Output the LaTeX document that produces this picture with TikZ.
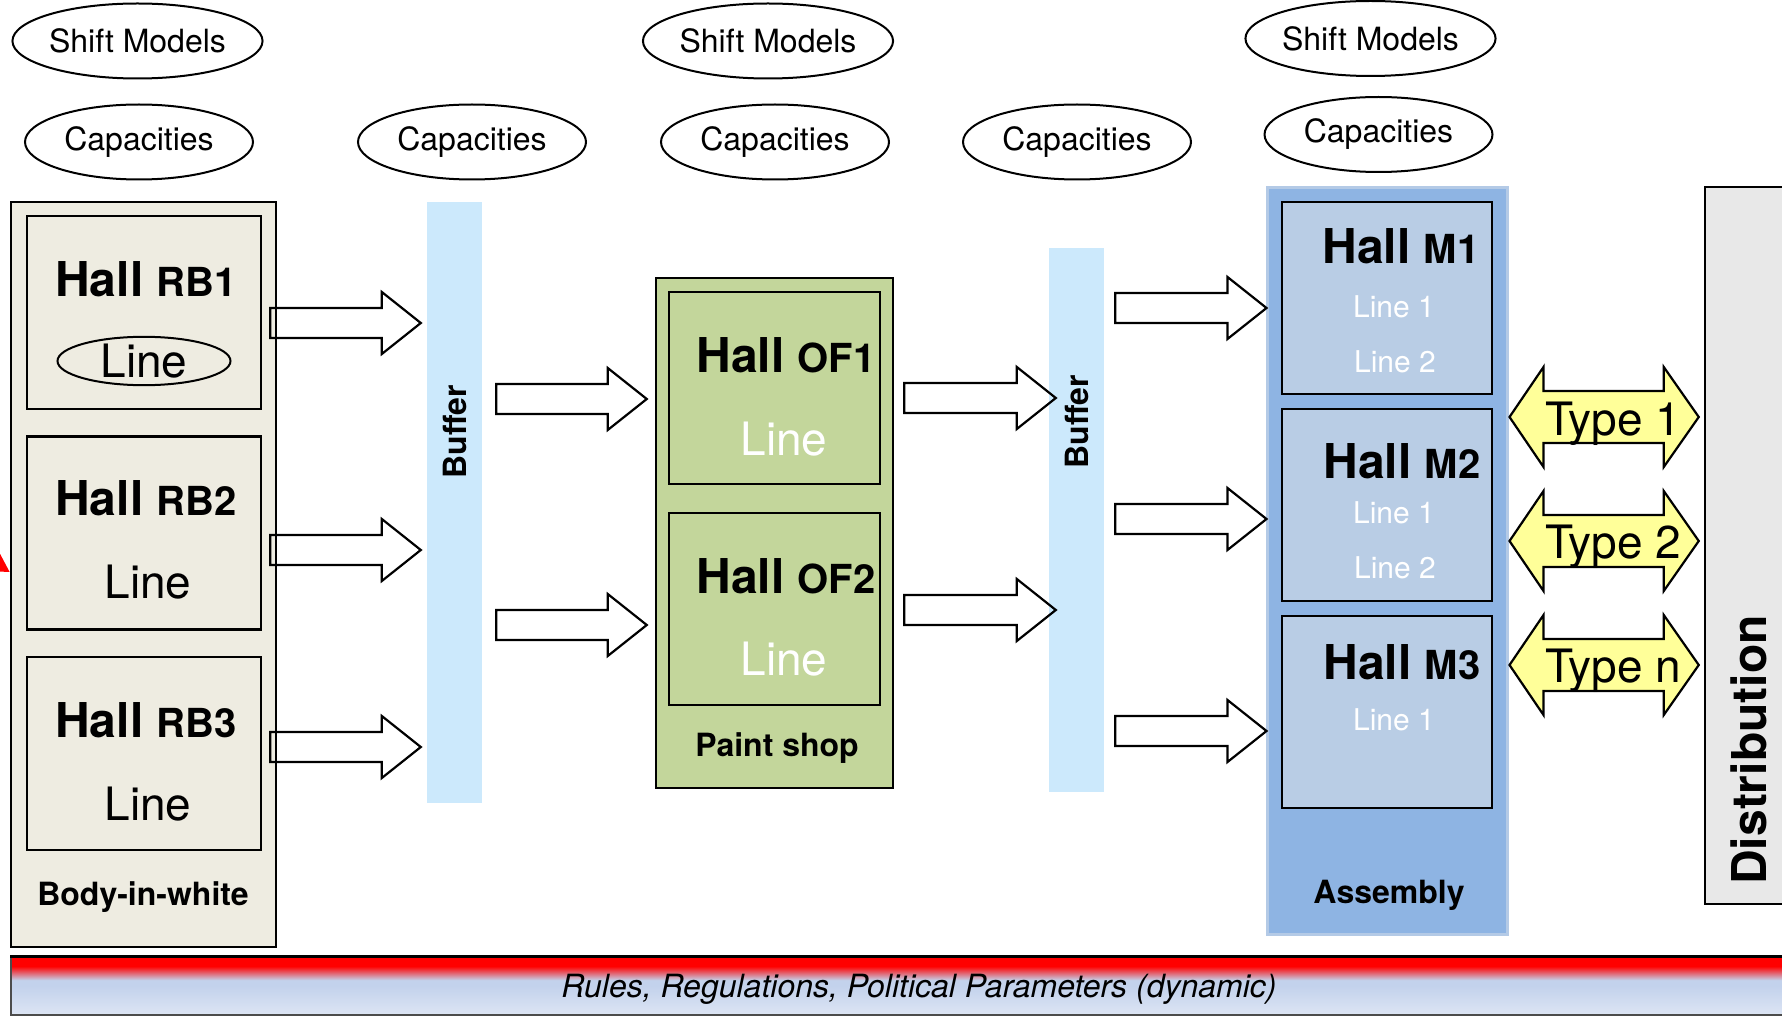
\documentclass[tikz,border=0pt]{standalone}
\usepackage{fontspec}
\setmainfont{TeX Gyre Heros}
\usetikzlibrary{arrows.meta,calc,shapes.geometric}
\definecolor{biwfill}{HTML}{EEECE1}
\definecolor{paintfill}{HTML}{C3D69B}
\definecolor{buffill}{HTML}{CCE9FC}
\definecolor{asmfill}{HTML}{8EB4E3}
\definecolor{asmedge}{HTML}{B4CAE6}
\definecolor{hallfill}{HTML}{B9CDE5}
\definecolor{distfill}{HTML}{E8E8E8}
\definecolor{typefill}{HTML}{FFFF99}
\definecolor{barmid}{HTML}{C3D2EC}
\definecolor{barlow}{HTML}{DDE5F4}
\pgfdeclareverticalshading{rulebar}{100bp}{color(0bp)=(barlow); color(25bp)=(barlow); color(50bp)=(barmid); color(55bp)=(barmid); color(67bp)=(red); color(100bp)=(red)}
\newcommand{\txtsize}[1]{\fontsize{#1}{#1}\selectfont}
\newcommand{\hallname}[1]{{\txtsize{48}Hall} {\txtsize{40}#1}}
% hollow block arrow: start, tip, height
\newcommand{\flowarrow}[3]{%
  \draw[flow] let \p1=(#1), \p2=(#2), \p3=(0,#3) in
    (\x1,\y3+15pt) -- (\x2-39pt,\y3+15pt) -- (\x2-39pt,\y3+31pt) -- (\x2,\y3)
    -- (\x2-39pt,\y3-31pt) -- (\x2-39pt,\y3-15pt) -- (\x1,\y3-15pt) -- cycle;}
% yellow two-way arrow: left tip, right tip, height
\newcommand{\typearrow}[3]{%
  \draw[twoway] let \p1=(#1), \p2=(#2), \p3=(0,#3) in
    (\x1,\y3) -- (\x1+34pt,\y3+50pt) -- (\x1+34pt,\y3+26pt) -- (\x2-35pt,\y3+26pt)
    -- (\x2-35pt,\y3+50pt) -- (\x2,\y3) -- (\x2-35pt,\y3-50pt) -- (\x2-35pt,\y3-26pt)
    -- (\x1+34pt,\y3-26pt) -- (\x1+34pt,\y3-50pt) -- cycle;}

\begin{document}
\begin{tikzpicture}[x=1pt, y=-1pt, >=Stealth,
  ell/.style={ellipse,draw,line width=2pt,inner sep=0pt,minimum width=228,minimum height=75,font=\txtsize{32}},
  hallbox/.style={draw,line width=2.5pt,inner sep=0pt,minimum width=234,minimum height=193},
  bufbar/.style={fill=buffill,inner sep=0pt,minimum width=55},
  lbl/.style={anchor=base,inner sep=0pt},
  hallt/.style={lbl,font=\bfseries\txtsize{48}},
  linet/.style={lbl,font=\txtsize{46}},
  sublinet/.style={lbl,font=\txtsize{30},text=white},
  capt/.style={lbl,font=\bfseries\txtsize{32}},
  buft/.style={rotate=90,inner sep=0pt,font=\bfseries\txtsize{32}},
  flow/.style={draw,line width=2.2pt,line join=miter},
  twoway/.style={draw,fill=typefill,line width=2.2pt,line join=miter}]
\useasboundingbox (0,0) rectangle (1782,1016);

% parameters on top
\node[ell,minimum width=231] (SM1) at (137.5,41) {Shift Models};
\node[ell,minimum width=242] (SM2) at (768,41) {Shift Models};
\node[ell,minimum width=239] (SM3) at (1370.5,38.5) {Shift Models};
\node[ell] (CA1) at (139,142) {Capacities};
\node[ell] (CA2) at (472,142) {Capacities};
\node[ell] (CA3) at (775,142) {Capacities};
\node[ell] (CA4) at (1077,142) {Capacities};
\node[ell] (CA5) at (1378.5,134.5) {Capacities};

% body-in-white
\node[draw,fill=biwfill,line width=2.5pt,inner sep=0pt,minimum width=265,minimum height=745] (BIW) at (143.5,574.5) {};
\node[hallbox] (RB1) at (144,312.5) {};
\node[hallbox] (RB2) at (144,533) {};
\node[hallbox] (RB3) at (144,753.5) {};
\node[hallt] (RB1t) at (146,296) {\hallname{RB1}};
\node[ellipse,draw,line width=2pt,inner sep=0pt,minimum width=173,minimum height=43,font=\txtsize{46}] (RB1l) at (144,361) {Line};
\node[hallt] (RB2t) at (146,515) {\hallname{RB2}};
\node[linet] (RB2l) at (148,598) {Line};
\node[hallt] (RB3t) at (146,737) {\hallname{RB3}};
\node[linet] (RB3l) at (148,820) {Line};
\node[capt] (BIWt) at (143,905) {Body-in-white};

% buffers
\node[bufbar,minimum height=601] (B1) at (454.5,502.5) {};
\node[buft] (B1t) at (455,432) {Buffer};
\node[bufbar,minimum height=544] (B2) at (1076.5,520) {};
\node[buft] (B2t) at (1077,422) {Buffer};

% paint shop
\node[draw,fill=paintfill,line width=2.5pt,inner sep=0pt,minimum width=237,minimum height=510] (PS) at (774.5,533) {};
\node[hallbox,minimum width=211,minimum height=192] (OF1) at (774.5,388) {};
\node[hallbox,minimum width=211,minimum height=192] (OF2) at (774.5,609) {};
\node[hallt] (OF1t) at (786,372) {\hallname{OF1}};
\node[linet,text=white] (OF1l) at (784,455) {Line};
\node[hallt] (OF2t) at (786,593) {\hallname{OF2}};
\node[linet,text=white] (OF2l) at (784,675) {Line};
\node[capt] (PSt) at (777,756) {Paint shop};

% assembly
\node[draw=asmedge,fill=asmfill,line width=3pt,inner sep=0pt,minimum width=240,minimum height=746] (ASM) at (1387,561) {};
\node[hallbox,fill=hallfill,minimum width=210,minimum height=192] (M1) at (1387,298) {};
\node[hallbox,fill=hallfill,minimum width=210,minimum height=192] (M2) at (1387,505) {};
\node[hallbox,fill=hallfill,minimum width=210,minimum height=192] (M3) at (1387,712) {};
\node[hallt] (M1t) at (1401,264) {\hallname{M1}};
\node[sublinet] (M1a) at (1394,317) {Line 1};
\node[sublinet] (M1b) at (1395,372) {Line 2};
\node[hallt] (M2t) at (1402,478) {\hallname{M2}};
\node[sublinet] (M2a) at (1394,523) {Line 1};
\node[sublinet] (M2b) at (1395,578) {Line 2};
\node[hallt] (M3t) at (1402,679) {\hallname{M3}};
\node[sublinet] (M3a) at (1394,730) {Line 1};
\node[capt] (ASMt) at (1389,903) {Assembly};

% distribution
\node[draw,fill=distfill,line width=2.5pt,inner sep=0pt,minimum width=90,minimum height=717] (DIST) at (1750,545.5) {};
\node[rotate=90,inner sep=0pt,font=\bfseries\txtsize{48}] (DISTt) at (1749,750) {Distribution};

% rules bar
\node[draw=black!70,line width=2pt,shading=rulebar,inner sep=0pt,minimum width=1784,minimum height=58] (BAR) at (903,986) {};
\draw[line width=3pt] (BAR.north west) -- (BAR.north east);
\node[lbl,font=\itshape\txtsize{32}] (BARt) at (919,997) {Rules, Regulations, Political Parameters (dynamic)};

% material flow
\flowarrow{$(RB1.east)+(8,0)$}{$(B1.west)+(-6,0)$}{323}
\flowarrow{$(RB2.east)+(8,0)$}{$(B1.west)+(-6,0)$}{550}
\flowarrow{$(RB3.east)+(8,0)$}{$(B1.west)+(-6,0)$}{747}
\flowarrow{$(B1.east)+(14,0)$}{$(PS.west)+(-8,0)$}{399}
\flowarrow{$(B1.east)+(14,0)$}{$(PS.west)+(-8,0)$}{625}
\flowarrow{$(PS.east)+(10,0)$}{$(B2.west)+(7,0)$}{398}
\flowarrow{$(PS.east)+(10,0)$}{$(B2.west)+(7,0)$}{610}
\flowarrow{$(B2.east)+(11,0)$}{$(ASM.west)+(1,0)$}{308}
\flowarrow{$(B2.east)+(11,0)$}{$(ASM.west)+(1,0)$}{519}
\flowarrow{$(B2.east)+(11,0)$}{$(ASM.west)+(1,0)$}{731}

% vehicle types
\typearrow{$(ASM.east)+(1,0)$}{$(DIST.west)+(-5,0)$}{417}
\typearrow{$(ASM.east)+(1,0)$}{$(DIST.west)+(-5,0)$}{541}
\typearrow{$(ASM.east)+(1,0)$}{$(DIST.west)+(-5,0)$}{665}
\node[lbl,font=\txtsize{46}] (T1) at (1613,435) {Type 1};
\node[lbl,font=\txtsize{46}] (T2) at (1613,558) {Type 2};
\node[lbl,font=\txtsize{46}] (Tn) at (1613,682) {Type n};

% incoming arrow from the left
\coordinate (IN) at (-45,538);
\draw[red,line width=4pt,-{Triangle[length=20pt,width=22pt]}] (IN) -- (BIW.west |- 0,572);
\end{tikzpicture}
\end{document}
